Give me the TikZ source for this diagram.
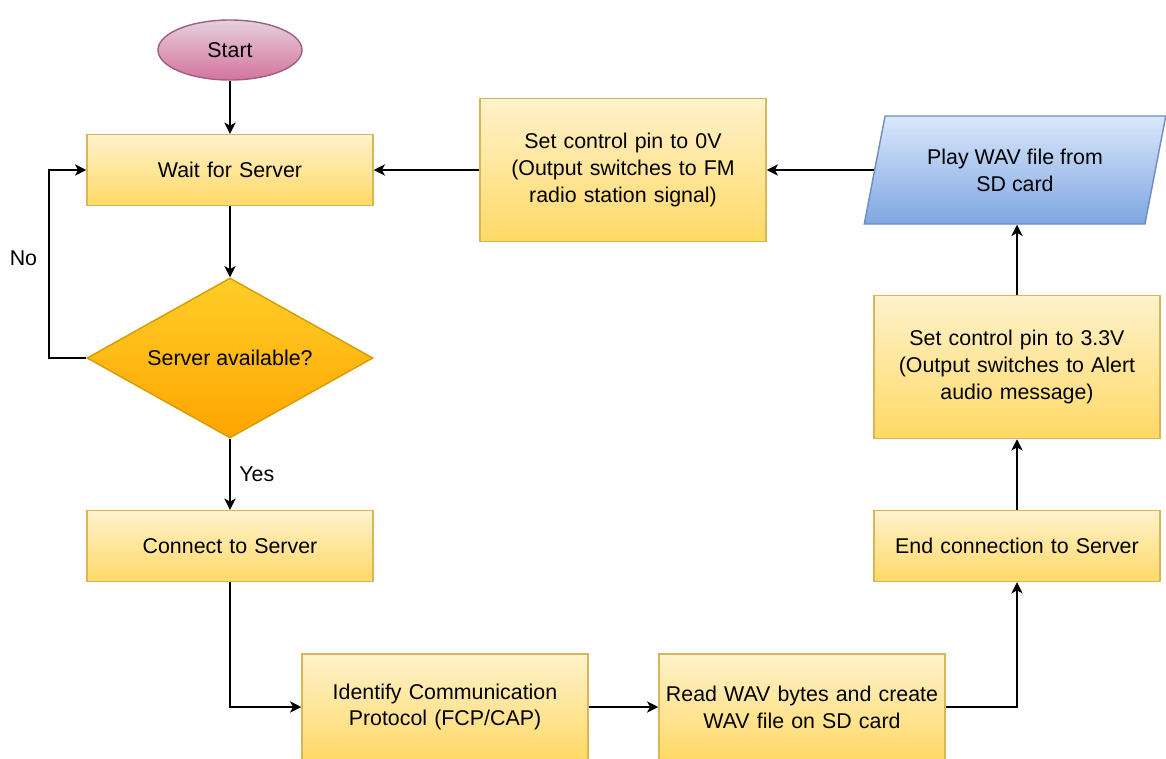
\documentclass[tikz,border=0pt]{standalone}
\usepackage{fontspec}
\setmainfont{Liberation Sans}
\usetikzlibrary{arrows.meta,shapes.geometric}
\definecolor{ylwtop}{HTML}{FFF2CC}
\definecolor{ylwbot}{HTML}{FFD966}
\definecolor{ylwline}{HTML}{D6B656}
\definecolor{orgtop}{HTML}{FFCD28}
\definecolor{orgbot}{HTML}{FFA500}
\definecolor{orgline}{HTML}{D79B00}
\definecolor{pnktop}{HTML}{E6D0DE}
\definecolor{pnkbot}{HTML}{D5739D}
\definecolor{pnkline}{HTML}{996185}
\definecolor{blutop}{HTML}{DAE8FC}
\definecolor{blubot}{HTML}{7EA6E0}
\definecolor{bluline}{HTML}{6C8EBF}
\tikzset{
  box/.style={draw=ylwline,line width=1pt,top color=ylwtop,bottom color=ylwbot,
              align=center,font=\fontsize{15.2}{19}\selectfont,inner sep=0pt,
              minimum width=7.15cm,minimum height=1.775cm,text width=6.9cm},
  arr/.style={-{Stealth[length=8pt,width=8pt,inset=2.2pt]},line width=1.3pt,black}
}
\begin{document}
\begin{tikzpicture}[x=0.025cm,y=-0.025cm,
    lbl/.style={font=\fontsize{15.2}{19}\selectfont}]
  \useasboundingbox (0,0) rectangle (1166,758);
  \node[ellipse,draw=pnkline,line width=1pt,top color=pnktop,bottom color=pnkbot,
        minimum width=3.6cm,minimum height=1.5cm,inner sep=0pt,lbl] (start) at (230,50) {Start};
  \node[box] (wait) at (230,170) {Wait for Server};
  \node[diamond,aspect=2.5,draw=orgline,line width=1pt,top color=orgtop,bottom color=orgbot,
        minimum width=7.15cm,minimum height=4cm,inner sep=0pt,lbl] (avail) at (230,358) {Server available?};
  \node[box] (conn) at (230,546) {Connect to Server};
  \node[box,minimum height=2.65cm] (ident) at (445,707) {Identify Communication\\Protocol (FCP/CAP)};
  \node[box,minimum height=2.65cm] (readwav) at (802,707) {Read WAV bytes and create\\WAV file on SD card};
  \node[box] (endc) at (1017,546) {End connection to Server};
  \node[box,minimum height=3.575cm] (pinhi) at (1017,367) {Set control pin to 3.3V\\(Output switches to Alert\\audio message)};
  \node[trapezium,trapezium left angle=71.6,trapezium right angle=108.4,trapezium stretches=true,
        draw=bluline,line width=1pt,top color=blutop,bottom color=blubot,align=center,
        minimum width=7.55cm,minimum height=2.7cm,inner sep=0pt,lbl] (play) at (1015,170) {Play WAV file from\\SD card};
  \node[box,minimum height=3.575cm] (pinlo) at (623,170) {Set control pin to 0V\\(Output switches to FM\\radio station signal)};
  \draw[arr] (start) -- (wait);
  \draw[arr] (wait) -- (avail);
  \draw[arr] (avail) -- node[right,lbl,inner sep=6pt] {Yes} (conn);
  \draw[arr] (avail.west) -- ++(-37,0) |- node[pos=0.265,left,lbl,inner sep=8pt] {No} (wait.west);
  \draw[arr] (conn.south) |- (ident.west);
  \draw[arr] (ident) -- (readwav);
  \draw[arr] (readwav.east) -| (endc.south);
  \draw[arr] (endc) -- (pinhi);
  \draw[arr] (pinhi.north) -- (pinhi.north |- play.south);
  \draw[arr] (play.west) -- (pinlo.east);
  \draw[arr] (pinlo) -- (wait);
\end{tikzpicture}
\end{document}
